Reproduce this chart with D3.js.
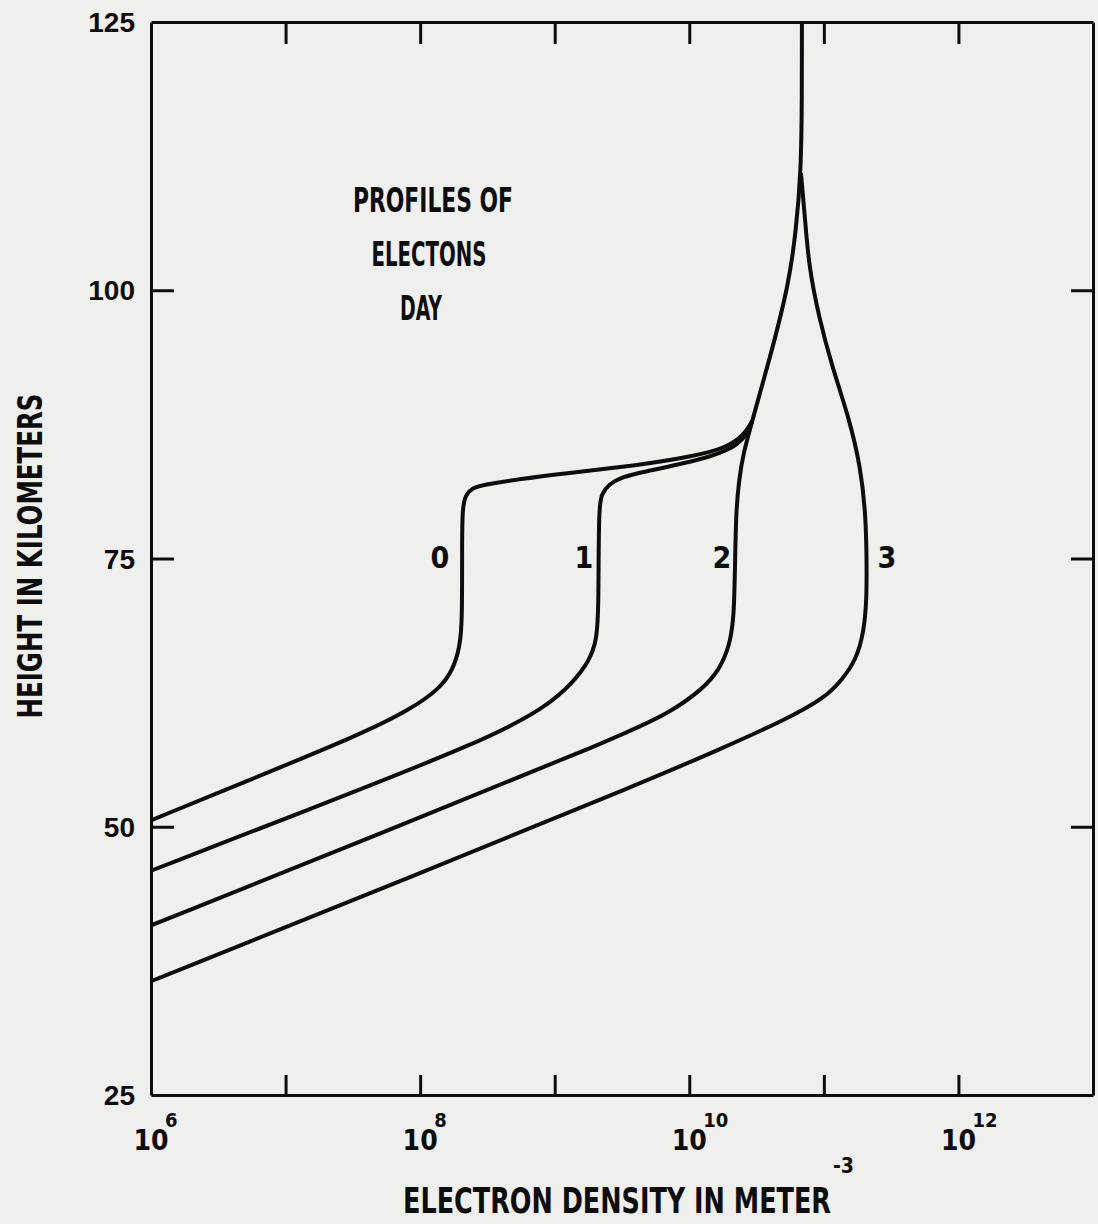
<!DOCTYPE html>
<html>
<head>
<meta charset="utf-8">
<script src="https://cdn.jsdelivr.net/npm/d3@7"></script>
<style>
  body { margin: 0; background: #efefed; }
  svg { display: block; }
  text { font-family: "Liberation Sans Narrow", "DejaVu Sans Condensed", "Roboto Condensed", sans-serif; fill: #0d0d0d; font-weight: bold; }
  .axis path, .axis line { stroke: #0d0d0d; stroke-width: 3; }
  .axis text { display: none; }
</style>
</head>
<body>
<div id="chart"></div>
<script>
// electron density (m^-3) and height (km)
const day0Density = [1.0e6, 5.5e6, 3.6e7, 8.4e7, 1.41e8, 1.75e8, 1.98e8, 2.05e8, 2.05e8, 2.05e8, 2.19e8, 2.47e8, 2.93e8, 1.09e9, 4.27e9, 1.05e10, 1.88e10, 2.55e10, 2.93e10];
const day0Height  = [50.6, 54.4, 58.6, 60.9, 62.9, 64.6, 66.8, 69.3, 74.9, 79.8, 81.0, 81.6, 81.9, 82.9, 83.7, 84.5, 85.3, 86.5, 87.8];

const day1Density = [1.0e6, 1.29e7, 3.13e8, 8.73e8, 1.36e9, 1.82e9, 2.05e9, 2.12e9, 2.12e9, 2.23e9, 2.51e9, 3.19e9, 4.27e9, 1.25e10, 2.23e10, 2.69e10, 2.93e10];
const day1Height  = [45.9, 51.3, 58.1, 61.2, 63.4, 65.5, 67.4, 70.2, 79.8, 81.0, 81.9, 82.6, 83.0, 84.2, 85.4, 86.6, 87.8];

const day2Density = [1.0e6, 7.1e7, 3.03e9, 7.11e9, 1.25e10, 1.67e10, 1.98e10, 2.15e10, 2.19e10, 2.23e10, 2.34e10, 2.51e10, 2.93e10, 4.12e10, 5.51e10, 6.21e10, 6.76e10, 6.87e10, 6.87e10];
const day2Height  = [40.8, 50.1, 58.4, 60.6, 62.8, 64.6, 66.8, 69.3, 74.9, 79.5, 82.3, 84.7, 87.8, 94.4, 100.7, 105.6, 110.9, 117.7, 125];

const day3Density = [1.0e6, 7.1e7, 5.32e9, 1.67e10, 5.24e10, 1.04e11, 1.36e11, 1.73e11, 1.98e11, 2.08e11, 2.08e11, 2.05e11, 1.88e11, 1.53e11, 1.15e11, 9.18e10, 7.74e10, 7.23e10, 6.76e10];
const day3Height  = [35.6, 44.9, 54.5, 57.2, 60.0, 62.1, 63.7, 65.5, 68.1, 71.1, 74.9, 78.9, 83.5, 88.2, 92.9, 97.5, 102.2, 106.8, 110.9];

// curve names and where they are lettered (data units)
const curveNames    = ['0', '1', '2', '3'];
const nameDensity   = [1.4e8, 1.65e9, 1.75e10, 2.94e11];
const nameHeight    = [74.1, 74.1, 74.1, 74.1];

// ticks and labels
const yLabels       = [125, 100, 75, 50, 25];
const yTicks        = [100, 75, 50];
const xTicks        = [1e7, 1e8, 1e9, 1e10, 1e11, 1e12];
const xLabelPowers  = [6, 8, 10, 12];
const titleLines    = ['PROFILES OF', 'ELECTONS', 'DAY'];

function profileChart() {
    let margin = {top: 22, right: 5, bottom: 129, left: 151},
        width = 1098,
        height = 1224;

    function chart(selector) {
        const w = width - margin.left - margin.right,
              h = height - margin.top - margin.bottom,
              svg = d3.select(selector)
                .append('svg')
                .attr('width', width)
                .attr('height', height)
                .append('g')
                .attr('transform', `translate(${margin.left},${margin.top})`);

        // scales
        const xScale = d3.scaleLog().domain([1e6, 1e13]).range([0, w]);
        const yScale = d3.scaleLinear().domain([25, 125]).range([h, 0]);

        // frame + inward ticks on all four sides
        svg.append('g').attr('class', 'axis')
            .attr('transform', `translate(0,${h})`)
            .call(d3.axisBottom(xScale).tickValues(xTicks).tickSizeInner(-20).tickSizeOuter(0));
        svg.append('g').attr('class', 'axis')
            .call(d3.axisTop(xScale).tickValues(xTicks).tickSizeInner(-22).tickSizeOuter(0));
        svg.append('g').attr('class', 'axis')
            .call(d3.axisLeft(yScale).tickValues(yTicks).tickSizeInner(-23).tickSizeOuter(0));
        svg.append('g').attr('class', 'axis')
            .attr('transform', `translate(${w},0)`)
            .call(d3.axisRight(yScale).tickValues(yTicks).tickSizeInner(-22).tickSizeOuter(0));

        // y labels
        svg.selectAll('.ylab')
            .data(yLabels)
            .enter()
            .append('text')
            .attr('class', 'ylab')
            .attr('x', -16)
            .attr('y', d => yScale(d) + 10)
            .attr('text-anchor', 'end')
            .style('font-family', '"Liberation Sans", Arimo, sans-serif')
            .style('font-size', '28px')
            .text(d => d);

        // x labels: 10 with a raised power
        const xl = svg.selectAll('.xlab')
            .data(xLabelPowers)
            .enter()
            .append('g')
            .attr('class', 'xlab')
            .attr('transform', d => `translate(${xScale(Math.pow(10, d))},${h + 55})`);
        xl.append('text')
            .attr('text-anchor', 'middle')
            .style('font-size', '28px')
            .text('10');
        xl.append('text')
            .attr('x', 14)
            .attr('y', -23)
            .style('font-size', '20px')
            .text(d => d);

        // profiles
        const line = d3.line()
            .x(d => xScale(d[0]))
            .y(d => yScale(d[1]))
            .curve(d3.curveBasis);

        const profiles = [
            d3.zip(day0Density, day0Height),
            d3.zip(day1Density, day1Height),
            d3.zip(day2Density, day2Height),
            d3.zip(day3Density, day3Height)
        ];

        svg.selectAll('.profile')
            .data(profiles)
            .enter()
            .append('path')
            .attr('class', 'profile')
            .attr('d', line)
            .style('fill', 'none')
            .style('stroke', '#0d0d0d')
            .style('stroke-width', 4)
            .style('stroke-linejoin', 'round');

        // curve names
        svg.selectAll('.cname')
            .data(curveNames)
            .enter()
            .append('text')
            .attr('class', 'cname')
            .attr('x', (d, i) => xScale(nameDensity[i]))
            .attr('y', (d, i) => yScale(nameHeight[i]))
            .attr('text-anchor', 'middle')
            .style('font-size', '30px')
            .text(d => d);

        // title block
        svg.selectAll('.title')
            .data(titleLines)
            .enter()
            .append('text')
            .attr('class', 'title')
            .attr('x', (d, i) => [282, 278, 270][i])
            .attr('y', (d, i) => 190 + i * 54)
            .attr('text-anchor', 'middle')
            .attr('textLength', (d, i) => [160, 115, 42][i])
            .attr('lengthAdjust', 'spacingAndGlyphs')
            .style('font-size', '33px')
            .text(d => d);

        // axis titles
        svg.append('text')
            .attr('x', 252)
            .attr('y', h + 118)
            .attr('textLength', 428)
            .attr('lengthAdjust', 'spacingAndGlyphs')
            .style('font-size', '36px')
            .text('ELECTRON DENSITY IN METER');
        svg.append('text')
            .attr('x', 682)
            .attr('y', h + 78)
            .style('font-size', '21px')
            .text('-3');

        svg.append('text')
            .attr('transform', `translate(${42 - margin.left},${556 - margin.top}) rotate(-90)`)
            .attr('text-anchor', 'middle')
            .attr('textLength', 325)
            .attr('lengthAdjust', 'spacingAndGlyphs')
            .style('font-size', '33px')
            .text('HEIGHT IN KILOMETERS');
    }

    return chart;
}

profileChart()('#chart');
</script>
</body>
</html>
